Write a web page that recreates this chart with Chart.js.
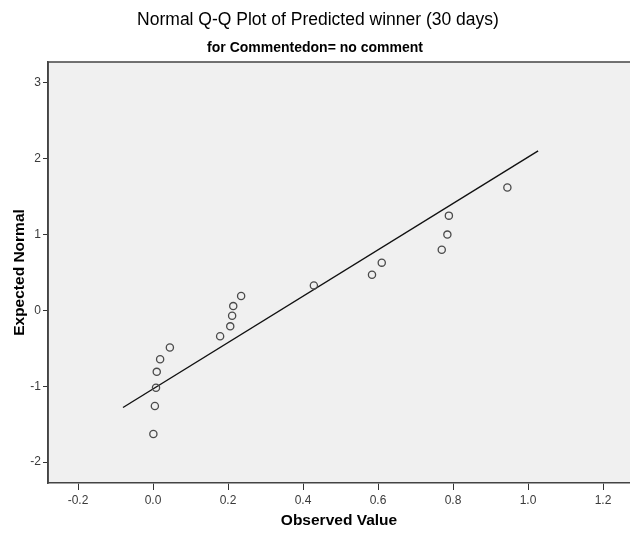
<!DOCTYPE html>
<html>
<head>
<meta charset="utf-8">
<script src="https://cdn.jsdelivr.net/npm/chart.js@4.4.1/dist/chart.umd.min.js"></script>
<style>
    body { margin: 0; background: #ffffff; }
    canvas { display: block; }
</style>
</head>
<body>
<canvas id="chart" width="630" height="537"></canvas>
<script>
// observed values and their expected normal scores
const observed = [0.001, 0.005, 0.008, 0.010, 0.019, 0.045, 0.179, 0.206, 0.211, 0.214, 0.235, 0.429, 0.584, 0.610, 0.770, 0.785, 0.789, 0.945];
const expected = [-1.63, -1.26, -1.02, -0.81, -0.645, -0.49, -0.34, -0.21, -0.07, 0.057, 0.19, 0.33, 0.47, 0.63, 0.80, 1.00, 1.25, 1.62];

// reference line
const lineX = [-0.08, 1.027];
const lineY = [-1.28, 2.105];

const xTicks = [-0.2, 0.0, 0.2, 0.4, 0.6, 0.8, 1.0, 1.2];
const yTicks = [-2, -1, 0, 1, 2, 3];

const titleText = "Normal Q-Q Plot of Predicted winner (30 days)";
const subtitleText = "for Commentedon= no comment";

const FONT = '"Liberation Sans", Arial, sans-serif';

const frame = {
    id: "frame",
    beforeDraw(chart) {
        const { ctx, chartArea: a } = chart;
        ctx.save();
        ctx.fillStyle = "#f0f0f0";
        ctx.fillRect(a.left, a.top, a.right - a.left, a.bottom - a.top);
        ctx.restore();
    },
    afterDraw(chart) {
        const { ctx, chartArea: a } = chart;
        ctx.save();
        ctx.strokeStyle = "#444444";
        ctx.lineWidth = 1.6;
        ctx.beginPath();
        ctx.moveTo(a.left, a.bottom);
        ctx.lineTo(a.left, a.top);
        ctx.lineTo(a.right, a.top);
        ctx.stroke();

        ctx.fillStyle = "#000000";
        ctx.textAlign = "center";
        ctx.textBaseline = "middle";
        ctx.font = "17.5px " + FONT;
        ctx.fillText(titleText, 318, 20);
        ctx.font = "bold 14px " + FONT;
        ctx.fillText(subtitleText, 315, 48);
        ctx.restore();
    }
};

let ctx = document.getElementById("chart");
const chartConfig = {
    type: "scatter",
    data: {
        datasets: [{
            label: "Observed",
            data: observed.map((v, i) => ({ x: v, y: expected[i] })),
            pointRadius: 3.6,
            pointHoverRadius: 3.6,
            pointBorderWidth: 1.3,
            pointBorderColor: "#4a4a4a",
            pointBackgroundColor: "rgba(0,0,0,0)",
            order: 1
        }, {
            type: "line",
            label: "Line",
            data: lineX.map((v, i) => ({ x: v, y: lineY[i] })),
            borderColor: "#111111",
            borderWidth: 1.4,
            pointRadius: 0,
            fill: false,
            order: 2
        }]
    },
    options: {
        responsive: false,
        animation: false,
        layout: { autoPadding: false, padding: { top: 62, left: 0, right: 0, bottom: 0 } },
        plugins: {
            legend: { display: false },
            tooltip: { enabled: false }
        },
        scales: {
            x: {
                type: "linear",
                min: -0.28,
                max: 1.272,
                afterBuildTicks: (s) => { s.ticks = xTicks.map(v => ({ value: v })); },
                afterFit: (s) => { s.height = 54; },
                grid: { drawOnChartArea: false, drawTicks: true, tickLength: 7, tickColor: "#333333", lineWidth: 1 },
                border: { display: true, color: "#444444", width: 1.6 },
                ticks: {
                    padding: 3,
                    color: "#3a3a3a",
                    font: { family: FONT, size: 12 },
                    callback: (v) => v.toFixed(1)
                },
                title: {
                    display: true,
                    text: "Observed Value",
                    color: "#000000",
                    font: { family: FONT, size: 15.5, weight: "bold" },
                    padding: { top: 0, bottom: 7 }
                }
            },
            y: {
                type: "linear",
                min: -2.276,
                max: 3.276,
                afterBuildTicks: (s) => { s.ticks = yTicks.map(v => ({ value: v })); },
                afterFit: (s) => { s.width = 48; },
                grid: { drawOnChartArea: false, drawTicks: true, tickLength: 5, tickColor: "#333333", lineWidth: 1 },
                border: { display: true, color: "#444444", width: 1.6 },
                ticks: {
                    padding: 2,
                    color: "#3a3a3a",
                    font: { family: FONT, size: 12 },
                    callback: (v) => String(v)
                },
                title: {
                    display: true,
                    text: "Expected Normal",
                    color: "#000000",
                    font: { family: FONT, size: 15.5, weight: "bold" },
                    padding: { top: 10, bottom: 0 }
                }
            }
        }
    },
    plugins: [frame]
};
let chart = new Chart(ctx, chartConfig);
</script>
</body>
</html>
